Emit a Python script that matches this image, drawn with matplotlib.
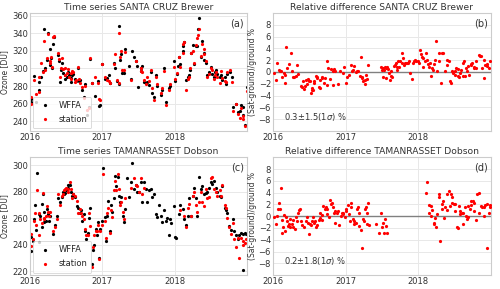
import numpy as np
import matplotlib
matplotlib.use('Agg')
import matplotlib.pyplot as plt

# Santa Cruz time series (decimal year, WFFA, station)
sc_time = [2016.01, 2016.02, 2016.05, 2016.08, 2016.12, 2016.13, 2016.15, 2016.18, 2016.19, 2016.21,
           2016.23, 2016.25, 2016.27, 2016.28, 2016.29, 2016.30, 2016.32, 2016.33, 2016.39, 2016.40,
           2016.41, 2016.43, 2016.44, 2016.46, 2016.48, 2016.49, 2016.51, 2016.52, 2016.54, 2016.56,
           2016.57, 2016.58, 2016.60, 2016.62, 2016.64, 2016.66, 2016.68, 2016.69, 2016.72, 2016.74,
           2016.76, 2016.79, 2016.81, 2016.83, 2016.86, 2016.90, 2016.94, 2016.95, 2016.97, 2016.99,
           2017.04, 2017.06, 2017.09, 2017.11, 2017.16, 2017.18, 2017.20, 2017.23, 2017.235, 2017.25,
           2017.26, 2017.27, 2017.30, 2017.32, 2017.37, 2017.39, 2017.41, 2017.44, 2017.46, 2017.48,
           2017.49, 2017.53, 2017.54, 2017.55, 2017.57, 2017.60, 2017.62, 2017.64, 2017.67, 2017.69,
           2017.71, 2017.74, 2017.76, 2017.81, 2017.83, 2017.85, 2017.88, 2017.92, 2017.94, 2017.99,
           2018.01, 2018.03, 2018.04, 2018.06, 2018.08, 2018.11, 2018.12, 2018.13, 2018.15, 2018.18,
           2018.20, 2018.21, 2018.22, 2018.25, 2018.27, 2018.29, 2018.31, 2018.32, 2018.34, 2018.36,
           2018.38, 2018.40, 2018.41, 2018.43, 2018.45, 2018.48, 2018.50, 2018.52, 2018.55, 2018.56,
           2018.57, 2018.59, 2018.62, 2018.64, 2018.66, 2018.69, 2018.71, 2018.73, 2018.77, 2018.79,
           2018.80, 2018.85, 2018.88, 2018.91, 2018.92, 2018.94, 2018.95, 2018.97, 2019.00]
sc_wffa = [262, 265, 291, 262, 285, 276, 290, 297, 345, 300,
           310, 340, 322, 304, 312, 301, 328, 336, 315, 309,
           285, 298, 306, 295, 292, 288, 290, 296, 292, 289,
           285, 292, 294, 288, 286, 300, 286, 287, 276, 268,
           282, 247, 256, 311, 283, 269, 286, 257, 258, 305,
           288, 289, 292, 284, 306, 300, 286, 282, 348, 310,
           316, 295, 295, 322, 303, 288, 320, 313, 309, 303,
           279, 301, 297, 303, 285, 284, 285, 281, 296, 272,
           268, 292, 280, 270, 276, 300, 262, 278, 280, 309,
           286, 294, 303, 313, 305, 320, 326, 330, 287, 290,
           292, 298, 318, 327, 305, 326, 326, 345, 357, 313,
           331, 318, 310, 306, 292, 296, 302, 294, 290, 296,
           298, 294, 290, 292, 287, 290, 282, 294, 296, 290,
           256, 260, 250, 252, 258, 256, 247, 236, 279]
sc_station = [260, 268, 287, 271, 290, 273, 306, 296, 331, 298,
              312, 339, 306, 308, 313, 302, 336, 337, 318, 311,
              290, 300, 312, 299, 300, 293, 295, 299, 290, 295,
              288, 297, 296, 285, 287, 302, 288, 283, 279, 266,
              280, 253, 255, 312, 284, 290, 284, 265, 264, 305,
              290, 287, 286, 284, 305, 317, 287, 283, 340, 313,
              320, 298, 298, 319, np.nan, 287, np.nan, np.nan, 308, np.nan,
              np.nan, 300, 297, 296, 287, 282, 290, 286, 298, 278,
              264, 290, 282, 272, 278, 297, 258, 276, 282, 302,
              288, 295, np.nan, 313, 302, 318, 328, 330, 275, 288,
              290, 300, 318, 320, 306, 327, 335, 338, 345, 314,
              328, 317, 322, 308, 290, 294, 300, 298, 288, 292,
              296, 290, 283, 297, 289, 286, 285, 296, 298, 285,
              252, 260, 248, 244, 255, 246, 243, 235, 274]

# Santa Cruz relative difference
sc_diff_time = [2016.01, 2016.04, 2016.06, 2016.08, 2016.10, 2016.11, 2016.13, 2016.15, 2016.16, 2016.17,
                2016.18, 2016.19, 2016.22, 2016.25, 2016.26, 2016.27, 2016.29, 2016.32, 2016.33, 2016.35,
                2016.38, 2016.40, 2016.41, 2016.43, 2016.44, 2016.45, 2016.47, 2016.48, 2016.49, 2016.51,
                2016.52, 2016.53, 2016.54, 2016.55, 2016.56, 2016.57, 2016.59, 2016.60, 2016.61, 2016.63,
                2016.64, 2016.65, 2016.67, 2016.68, 2016.70, 2016.72, 2016.74, 2016.75, 2016.76, 2016.78,
                2016.80, 2016.82, 2016.83, 2016.84, 2016.86, 2016.90, 2016.92, 2016.96, 2016.98, 2017.00,
                2017.02, 2017.05, 2017.07, 2017.09, 2017.10, 2017.12, 2017.14, 2017.15, 2017.17, 2017.20,
                2017.21, 2017.22, 2017.23, 2017.24, 2017.26, 2017.27, 2017.28, 2017.30, 2017.31,
                2017.49, 2017.50, 2017.51, 2017.52, 2017.53, 2017.54, 2017.55, 2017.56, 2017.57, 2017.58,
                2017.60, 2017.61, 2017.62, 2017.63, 2017.64, 2017.66, 2017.68, 2017.69, 2017.70, 2017.71,
                2017.72, 2017.74, 2017.75, 2017.77, 2017.78, 2017.79, 2017.80, 2017.82, 2017.83, 2017.85,
                2017.86, 2017.87, 2017.89, 2017.91, 2017.93, 2017.94, 2017.95, 2017.97, 2017.99,
                2018.01, 2018.02, 2018.03, 2018.05, 2018.06, 2018.07, 2018.09, 2018.11, 2018.12, 2018.13,
                2018.15, 2018.16, 2018.17, 2018.19, 2018.20, 2018.22, 2018.23, 2018.24, 2018.26, 2018.28,
                2018.29, 2018.31, 2018.32, 2018.34, 2018.37, 2018.39, 2018.40, 2018.42, 2018.44, 2018.45,
                2018.46, 2018.48, 2018.50, 2018.51, 2018.52, 2018.54, 2018.55, 2018.56, 2018.58, 2018.59,
                2018.61, 2018.62, 2018.63, 2018.64, 2018.66, 2018.67, 2018.69, 2018.70, 2018.72, 2018.73,
                2018.74, 2018.76, 2018.77, 2018.79, 2018.80, 2018.83, 2018.85, 2018.86, 2018.88, 2018.90,
                2018.91, 2018.92, 2018.94, 2018.95, 2018.97, 2018.98]
sc_diff = [-0.2, -1.4, 1.6, 0.3, 0.2, 0.1, -0.9, -0.2, -0.5, -1.9,
           4.3, 0.6, 1.3, 3.2, 0.2, -0.9, -0.8, -0.7, 1.1, -0.3,
           -2.4, -2.6, -1.6, -2.9, -2.4, -1.4, -2.1, -1.2, -1.6, -1.5,
           -3.6, -3.1, -2.8, -3.0, -1.9, -1.5, -0.7, -1.1, -0.9, -2.5,
           -1.4, -2.8, -1.1, -0.8, -1.8, -1.1, 1.9, -2.2, 0.7, -1.2,
           0.5, 0.1, -2.2, 0.5, 0.1, -2.0, 0.1, -0.1, 0.9, -1.9,
           -0.9, -0.5, 1.1, 0.2, 0.3, 1.0, 0.0, 0.1, 0.1, -0.7,
           2.5, -0.8, -1.1, -1.6, -2.0, -1.4, -0.5, -1.2, 1.2,
           0.9, 0.3, -0.9, 0.6, 0.3, 0.9, -1.1, 0.6, 0.9, 0.5,
           -0.1, -1.4, 0.2, -0.7, -0.9, 1.0, 1.2, 1.5, 0.3, 0.9,
           1.8, 0.9, 1.9, 3.3, 1.5, 2.3, 1.2, 1.5, 1.6, 1.6,
           1.6, 1.8, -0.2, -1.2, 1.6, 1.8, 2.0, 1.9, 1.8,
           1.6, 3.7, 3.0, 2.6, 2.3, 0.9, 1.8, 3.3, 2.0, 1.4,
           0.9, 1.5, -0.7, 0.6, 0.3, 1.4, 2.0, 5.3, 0.1, 1.8,
           3.2, -1.8, 3.2, 3.2, 0.2, 1.2, 2.0, 1.9, -1.6, -1.9,
           0.2, -0.2, -0.5, 0.1, 0.6, -0.7, 0.5, -0.8, -0.1, 0.3,
           -0.7, 1.5, 1.8, -0.7, 0.6, 0.1, 1.0, -0.5, 1.2, 1.4,
           1.6, 0.6, 0.9, 1.8, 0.6, 2.8, 2.7, 2.7, 0.6, 2.0,
           -1.1, 1.2, 1.0, 1.4, 0.6, 1.8]

# Tamanrasset time series
tm_time = [2016.01, 2016.02, 2016.04, 2016.06, 2016.07, 2016.08, 2016.10, 2016.12, 2016.13, 2016.14,
           2016.16, 2016.165, 2016.18, 2016.19, 2016.20, 2016.22, 2016.23, 2016.25, 2016.26, 2016.28,
           2016.32, 2016.34, 2016.37, 2016.39, 2016.42, 2016.44, 2016.45, 2016.47, 2016.49, 2016.50,
           2016.52, 2016.53, 2016.55, 2016.56, 2016.58, 2016.60, 2016.62, 2016.65, 2016.67, 2016.69,
           2016.70, 2016.72, 2016.74, 2016.76, 2016.78, 2016.80, 2016.81, 2016.83, 2016.86, 2016.87,
           2016.89, 2016.91, 2016.93, 2016.94, 2016.96, 2016.97, 2016.99,
           2017.01, 2017.03, 2017.05, 2017.06, 2017.08, 2017.10, 2017.12, 2017.14, 2017.16, 2017.18,
           2017.19, 2017.21, 2017.23, 2017.24, 2017.26, 2017.28, 2017.30, 2017.31, 2017.34, 2017.37,
           2017.39, 2017.41, 2017.44, 2017.46, 2017.48, 2017.50, 2017.53, 2017.55, 2017.57, 2017.60,
           2017.62, 2017.64, 2017.67, 2017.69, 2017.71, 2017.74, 2017.76, 2017.78, 2017.81, 2017.83,
           2017.85, 2017.88, 2017.90, 2017.92, 2017.94, 2017.95, 2017.99,
           2018.01, 2018.02, 2018.06, 2018.08, 2018.11, 2018.13, 2018.15, 2018.18, 2018.20, 2018.22,
           2018.25, 2018.27, 2018.29, 2018.31, 2018.34, 2018.36, 2018.38, 2018.41, 2018.43, 2018.45,
           2018.48, 2018.50, 2018.52, 2018.55, 2018.57, 2018.59, 2018.62, 2018.64, 2018.66, 2018.69,
           2018.71, 2018.73, 2018.75, 2018.78, 2018.80, 2018.82, 2018.85, 2018.87, 2018.89, 2018.92,
           2018.94, 2018.95, 2018.97, 2018.99]
tm_wffa = [246, 235, 243, 259, 270, 251, 294, 263, 242, 262,
           253, 271, 278, 257, 265, 258, 267, 263, 258, 262,
           248, 255, 262, 275, 272, 276, 280, 278, 279, 281,
           285, 283, 285, 280, 277, 278, 276, 269, 268, 264,
           266, 258, 263, 250, 244, 249, 260, 268, 225, 236,
           240, 252, 247, 257, 230, 252, 258,
           298, 261, 243, 262, 273, 250, 270, 265, 275, 292,
           284, 291, 277, 272, 276, 262, 257, 267, 290, 276,
           287, 302, 282, 285, 280, 280, 287, 272, 287, 282,
           272, 281, 282, 276, 278, 263, 261, 270, 262, 257,
           266, 258, 260, 247, 259, 256, 269,
           246, 245, 263, 270, 267, 259, 255, 262, 275, 262,
           277, 283, 275, 262, 291, 282, 284, 278, 279, 280,
           283, 287, 286, 288, 283, 280, 277, 276, 284, 268,
           266, 264, 254, 251, 259, 250, 247, 244, 247, 249,
           248, 221, 249, 248]
tm_station = [248, 239, 244, 258, 264, 255, 281, 264, 247, 259,
              256, np.nan, 279, 260, 259, 262, 269, 265, 262, 265,
              250, 253, 259, 278, 270, 277, 278, 281, 282, 283,
              280, 282, 287, 282, 275, 278, 277, 273, 264, 267,
              264, 262, 259, 252, 247, 247, 264, 254, 223, 238,
              247, 250, 250, 255, 229, 250, 255,
              293, 258, 245, 264, 268, 249, 266, 261, 281, 288,
              281, 293, 282, 270, 272, 265, 259, 275, np.nan, np.nan,
              283, np.nan, 290, 285, 284, 280, 290, 278, 283, np.nan,
              np.nan, np.nan, np.nan, np.nan, np.nan, np.nan, np.nan, np.nan, np.nan, np.nan,
              np.nan, np.nan, np.nan, np.nan, np.nan, np.nan, np.nan,
              np.nan, np.nan, np.nan, 266, np.nan, 262, 253, 268, 271, 262,
              277, 280, 270, 265, 272, 280, 272, 269, 282, 275,
              276, 290, 291, 282, 280, 277, 281, 277, 285, 270,
              268, 260, 253, 248, 256, 244, 238, 245, 230, 245,
              243, 240, 241, 244]

# Tamanrasset relative difference
tm_diff_time = [2016.01, 2016.04, 2016.06, 2016.07, 2016.08, 2016.09, 2016.11, 2016.12, 2016.13, 2016.14,
                2016.15, 2016.17, 2016.18, 2016.19, 2016.21, 2016.22, 2016.23, 2016.24, 2016.26, 2016.27,
                2016.28, 2016.30, 2016.31, 2016.33, 2016.34, 2016.36, 2016.37, 2016.38, 2016.40, 2016.43,
                2016.45, 2016.47, 2016.48, 2016.50, 2016.51, 2016.52, 2016.54, 2016.55, 2016.57, 2016.58,
                2016.59, 2016.61, 2016.63, 2016.64, 2016.65, 2016.67, 2016.68, 2016.69, 2016.71, 2016.73,
                2016.74, 2016.75, 2016.77, 2016.78, 2016.80, 2016.81, 2016.82, 2016.84, 2016.85, 2016.86,
                2016.88, 2016.90, 2016.91, 2016.93, 2016.95, 2016.96, 2016.97, 2016.99,
                2017.00, 2017.01, 2017.03, 2017.04, 2017.06, 2017.07, 2017.08, 2017.10, 2017.11, 2017.12,
                2017.14, 2017.15, 2017.17, 2017.18, 2017.19, 2017.21, 2017.22, 2017.24, 2017.25, 2017.26,
                2017.28, 2017.29, 2017.30, 2017.31, 2017.32,
                2017.42, 2017.46, 2017.49, 2017.50, 2017.51, 2017.53, 2017.54, 2017.55, 2017.57,
                2018.11, 2018.12, 2018.14, 2018.15, 2018.17, 2018.18, 2018.19, 2018.21, 2018.22, 2018.23,
                2018.25, 2018.26, 2018.28, 2018.29, 2018.30, 2018.32, 2018.33, 2018.34, 2018.36, 2018.37,
                2018.39, 2018.40, 2018.42, 2018.43, 2018.45, 2018.46, 2018.47, 2018.49, 2018.50, 2018.51,
                2018.53, 2018.54, 2018.56, 2018.57, 2018.58, 2018.60, 2018.61, 2018.62, 2018.64, 2018.65,
                2018.67, 2018.68, 2018.69, 2018.71, 2018.72, 2018.73, 2018.75, 2018.76, 2018.77, 2018.79,
                2018.81, 2018.83, 2018.84, 2018.86, 2018.87, 2018.90, 2018.91, 2018.92, 2018.94, 2018.95,
                2018.97, 2018.98, 2018.99]
tm_diff = [-0.2, -1.4, 0.1, 1.2, 2.3, 1.2, 4.7, -2.8, -0.7, -1.9,
           0.2, -2.5, -0.2, -0.8, -1.6, -1.4, -1.9, -0.5, -1.4, -1.9,
           -0.6, -2.2, -0.1, -0.9, 0.6, 1.0, 1.2, -0.9, -1.5, -1.8,
           -0.9, -0.1, -1.1, -3.1, -1.4, -1.5, -0.8, -0.1, -1.1, -0.9,
           -1.8, -1.5, -0.7, -0.3, 0.5, -0.7, 0.2, 1.8, 1.2, 1.5,
           0.3, 1.2, -0.2, 2.8, 2.0, 2.3, 1.5, 0.6, -1.2, 0.9,
           0.5, 0.9, -1.5, 0.1, 0.5, 0.3, 0.6, -0.1,
           0.8, 1.2, 1.9, 0.3, -0.9, 1.5, 2.3, -0.5, -1.4, -0.8,
           -1.1, 1.2, 1.5, 0.5, -1.6, -2.4, -5.4, -0.5, -0.8, 1.2,
           1.5, 0.6, -1.4, 2.3, -1.5,
           -1.4, -2.9, 0.6, -1.8, -1.1, -2.8, -0.5, -1.6, -2.9,
           3.9, 5.8, 1.9, 0.5, 0.1, 1.8, 1.0, -1.4, -1.1, -0.3,
           -1.9, 0.3, 3.2, 3.7, -4.2, 2.0, 1.2, 2.6, -0.3, 1.6,
           1.0, 3.7, 4.3, 1.8, 3.7, 3.2, 2.3, 2.0, 2.0, 0.9,
           -1.9, -2.0, 1.8, 0.3, 0.9, 0.6, -1.4, 0.6, 1.5, 0.1,
           -0.5, -0.1, 1.8, 1.2, 2.5, 1.9, 2.5, 0.9, 2.3, -0.7,
           3.7, 4.0, 0.6, 1.8, 1.6, 0.1, 1.5, 1.9, 2.0, -5.4,
           0.6, 1.6, 1.9]

titles = ['Time series SANTA CRUZ Brewer', 'Relative difference SANTA CRUZ Brewer',
          'Time series TAMANRASSET Dobson', 'Relative difference TAMANRASSET Dobson']
panel_labels = ['(a)', '(b)', '(c)', '(d)']
stats = ['0.3$\\pm$1.5(1$\\sigma$) %', '0.2$\\pm$1.8(1$\\sigma$) %']

plt.style.use('seaborn-v0_8-whitegrid')
plt.rcParams['font.family'] = ['DejaVu Sans']
txt = '#333333'

fig = plt.figure(figsize=(5, 2.89), dpi=100)
ax_a = fig.add_axes([0.060, 0.547, 0.434, 0.408])
ax_b = fig.add_axes([0.546, 0.547, 0.436, 0.408])
ax_c = fig.add_axes([0.060, 0.048, 0.434, 0.408])
ax_d = fig.add_axes([0.546, 0.048, 0.436, 0.408])

ms = 2.3
for ax, t, w, s in [(ax_a, sc_time, sc_wffa, sc_station), (ax_c, tm_time, tm_wffa, tm_station)]:
    ax.plot(t, w, 'o', color='black', ms=ms, mew=0, label='WFFA')
    ax.plot(t, s, 'o', color='red', ms=ms, mew=0, label='station')
    ax.set_ylabel('Ozone [DU]', fontsize=5.5, color=txt, labelpad=2)
    leg = ax.legend(loc='lower left', fontsize=6, frameon=True, markerscale=1.0,
                    handletextpad=0.6, borderpad=0.5, labelspacing=0.6, borderaxespad=0.3)
    leg.get_frame().set_edgecolor('#cccccc')
    leg.get_frame().set_linewidth(0.6)

ax_a.set_yticks([240, 260, 280, 300, 320, 340, 360])
ax_c.set_yticks([220, 240, 260, 280, 300])

for ax, t, d, st in [(ax_b, sc_diff_time, sc_diff, stats[0]), (ax_d, tm_diff_time, tm_diff, stats[1])]:
    ax.axhline(0, color='grey', lw=1.0, zorder=1)
    ax.plot(t, d, 'o', color='red', ms=ms, mew=0, zorder=3)
    ax.set_ylim(-10, 10)
    ax.set_yticks([-8, -6, -4, -2, 0, 2, 4, 6, 8])
    ax.set_ylabel('(Sat-ground)/ground %', fontsize=5.5, color=txt, labelpad=1)
    ax.text(0.05, 0.12, st, transform=ax.transAxes, fontsize=6, color=txt, va='center')

for ax, title, lab in zip([ax_a, ax_b, ax_c, ax_d], titles, panel_labels):
    ax.set_xlim(2016.0, 2019.0)
    ax.set_xticks([2016, 2017, 2018])
    ax.set_xticklabels(['2016', '2017', '2018'])
    ax.tick_params(labelsize=6, colors=txt, pad=1.5, length=0)
    ax.set_title(title, fontsize=6.6, color=txt, pad=2)
    ax.text(0.985, 0.955, lab, transform=ax.transAxes, ha='right', va='top', fontsize=7, color=txt)
    ax.grid(True, color='#e8e8e8', lw=0.7)
    for sp in ax.spines.values():
        sp.set_edgecolor('#cccccc')
        sp.set_linewidth(0.8)

fig.savefig('out.png', dpi=100)
